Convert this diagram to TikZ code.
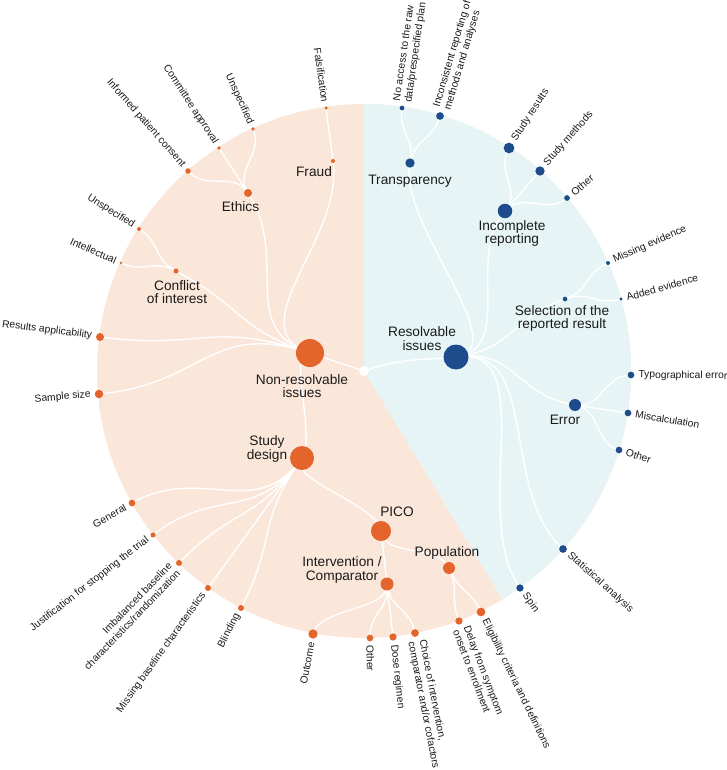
\documentclass[tikz,border=0pt]{standalone}
\usepackage{fontspec}
\setmainfont{Liberation Sans}
\usetikzlibrary{calc}
\pgfdeclarelayer{bgl}\pgfdeclarelayer{lkl}
\pgfsetlayers{bgl,lkl,main}
\definecolor{bgO}{HTML}{FBE6DA}
\definecolor{bgT}{HTML}{E6F4F5}
\definecolor{dO}{HTML}{E4652B}
\definecolor{dB}{HTML}{1D4B8C}
\definecolor{txt}{HTML}{1A1A1A}
\def\cx{364}\def\cy{371}
% name, x(px), y(px), diameter, style
\newcommand\mk[5]{%
  \expandafter\def\csname PX#1\endcsname{#2}%
  \expandafter\def\csname PY#1\endcsname{#3}%
  \expandafter\def\csname PD#1\endcsname{#4}%
  \node[dot,#5,minimum size=#4pt] (#1) at (#2,-#3) {};}
% radial link parent -> child
\newcommand\lk[2]{%
  \pgfmathsetmacro\lkXa{\csname PX#1\endcsname-\cx}%
  \pgfmathsetmacro\lkYa{\cy-\csname PY#1\endcsname}%
  \pgfmathsetmacro\lkXb{\csname PX#2\endcsname-\cx}%
  \pgfmathsetmacro\lkYb{\cy-\csname PY#2\endcsname}%
  \pgfmathsetmacro\lkAa{atan2(\lkYa,\lkXa)}%
  \pgfmathsetmacro\lkAb{atan2(\lkYb,\lkXb)}%
  \pgfmathsetmacro\lkR{(veclen(\lkXa,\lkYa)+veclen(\lkXb,\lkYb))/2}%
  \draw[lnk] (#1.center) .. controls ($(ctr.center)+(\lkAa:\lkR)$) and ($(ctr.center)+(\lkAb:\lkR)$) .. (#2.center);}
% radial leaf label
\newcommand\lab[2]{%
  \pgfmathsetmacro\lbX{\csname PX#1\endcsname-\cx}%
  \pgfmathsetmacro\lbY{\cy-\csname PY#1\endcsname}%
  \pgfmathsetmacro\lbA{atan2(\lbY,\lbX)}%
  \pgfmathsetmacro\lbD{\csname PD#1\endcsname/2+4}%
  \ifdim\lbX pt<0pt
    \pgfmathsetmacro\lbR{\lbA+180}%
    \node[leaflab,anchor=east,align=right,rotate=\lbR] (#1-l) at ($(#1.center)+(\lbA:\lbD)$) {#2};%
  \else
    \node[leaflab,anchor=west,align=left,rotate=\lbA] (#1-l) at ($(#1.center)+(\lbA:\lbD)$) {#2};%
  \fi}
\begin{document}
\begin{tikzpicture}[x=1pt,y=1pt,
  dot/.style={circle,inner sep=0pt,outer sep=0pt,draw=none},
  lnk/.style={white,line width=1.4pt},
  leaflab/.style={font=\fontsize{10.3}{11.5}\selectfont,text=txt,inner sep=0pt},
  mainlab/.style={font=\fontsize{13.7}{13.2}\selectfont,text=txt,inner sep=0pt,align=center}]
\useasboundingbox (0,0) rectangle (726,-770);
% ---- nodes
\mk{ctr}{364}{371}{10}{fill=white}
\mk{nr}{310}{353}{28}{fill=dO}
\mk{sd}{302}{458}{24}{fill=dO}
\mk{coi}{176}{271}{5}{fill=dO}
\mk{eth}{248}{193}{8}{fill=dO}
\mk{fra}{333}{161}{4}{fill=dO}
\mk{pico}{381}{531}{20}{fill=dO}
\mk{pop}{449}{568}{12}{fill=dO}
\mk{ic}{387}{584}{13}{fill=dO}
\mk{fal}{326}{108}{3.5}{fill=dO}
\mk{eun}{253}{129}{3.8}{fill=dO}
\mk{eca}{219}{148}{3.8}{fill=dO}
\mk{eip}{188}{171}{5.5}{fill=dO}
\mk{cun}{139}{229}{4}{fill=dO}
\mk{cin}{121}{263}{2.8}{fill=dO}
\mk{rap}{100}{337}{8}{fill=dO}
\mk{ssz}{99}{394}{8.5}{fill=dO}
\mk{gen}{132}{503}{6.7}{fill=dO}
\mk{jus}{153}{535}{5}{fill=dO}
\mk{imb}{179}{563}{6}{fill=dO}
\mk{mbc}{208}{588}{6}{fill=dO}
\mk{bli}{241}{608}{6}{fill=dO}
\mk{outc}{313}{634}{9.3}{fill=dO}
\mk{ioth}{370}{638}{6.7}{fill=dO}
\mk{dos}{393}{637}{7.3}{fill=dO}
\mk{cho}{415}{633}{7.7}{fill=dO}
\mk{del}{459}{621}{7.3}{fill=dO}
\mk{eli}{481}{612}{8.7}{fill=dO}
\mk{res}{456}{357}{25}{fill=dB}
\mk{tra}{410}{163}{9.3}{fill=dB}
\mk{inc}{505}{211}{14.5}{fill=dB}
\mk{sel}{565}{299}{4.7}{fill=dB}
\mk{err}{575}{405}{12}{fill=dB}
\mk{noa}{402}{108}{4.7}{fill=dB}
\mk{inr}{440}{116}{7.7}{fill=dB}
\mk{sre}{509}{148}{10.7}{fill=dB}
\mk{sme}{540}{171}{9.3}{fill=dB}
\mk{roth}{567}{198}{5.7}{fill=dB}
\mk{mev}{608}{263}{4}{fill=dB}
\mk{aev}{621}{299}{3.3}{fill=dB}
\mk{typ}{631}{375}{6.7}{fill=dB}
\mk{mis}{628}{413}{6.7}{fill=dB}
\mk{eoth}{619}{450}{6.7}{fill=dB}
\mk{sta}{563}{549}{7.7}{fill=dB}
\mk{spi}{520}{588}{7.3}{fill=dB}
% ---- background
\begin{pgfonlayer}{bgl}
\fill[bgO] (ctr.center) circle[radius=267];
\begin{scope}
\clip (ctr.center) circle[radius=267];
\fill[bgT] (ctr.center) -- (364,20) -- (740,20) -- (740,-830) -- ($(ctr.center)+(-58.8:520)$) -- cycle;
\end{scope}
\end{pgfonlayer}
% ---- links
\begin{pgfonlayer}{lkl}
\draw[lnk] (ctr.center) -- (nr.center);
\draw[lnk] (ctr.center) to[out=20,in=185] (res.center);
\lk{nr}{fra}\lk{fra}{fal}
\lk{nr}{eth}\lk{eth}{eun}\lk{eth}{eca}\lk{eth}{eip}
\lk{nr}{coi}\lk{coi}{cun}\lk{coi}{cin}
\lk{nr}{rap}\lk{nr}{ssz}
\lk{nr}{sd}
\lk{sd}{gen}\lk{sd}{jus}\lk{sd}{imb}\lk{sd}{mbc}\lk{sd}{bli}\lk{sd}{pico}
\lk{pico}{pop}\lk{pop}{del}\lk{pop}{eli}
\lk{pico}{ic}\lk{ic}{outc}\lk{ic}{ioth}\lk{ic}{dos}\lk{ic}{cho}
\lk{res}{tra}\lk{tra}{noa}\lk{tra}{inr}
\lk{res}{inc}\lk{inc}{sre}\lk{inc}{sme}\lk{inc}{roth}
\lk{res}{sel}\lk{sel}{mev}\lk{sel}{aev}
\lk{res}{err}\lk{err}{typ}\lk{err}{mis}\lk{err}{eoth}
\lk{res}{sta}\lk{res}{spi}
\end{pgfonlayer}
% ---- main labels
\node[mainlab] (nr-t) at (302,-386) {Non-resolvable\\issues};
\node[mainlab] (sd-t) at (267,-449) {Study\\design};
\node[mainlab] (coi-t) at (177,-292) {Conflict\\of interest};
\node[mainlab] (eth-t) at (240.5,-206.7) {Ethics};
\node[mainlab] (fra-t) at (314,-171.5) {Fraud};
\node[mainlab] (pico-t) at (397,-511.3) {PICO};
\node[mainlab] (pop-t) at (447,-553) {Population};
\node[mainlab] (ic-t) at (342,-570) {Intervention /\\Comparator};
\node[mainlab] (res-t) at (422,-338.7) {Resolvable\\issues};
\node[mainlab] (tra-t) at (410,-180.8) {Transparency};
\node[mainlab] (inc-t) at (512,-233.8) {Incomplete\\reporting};
\node[mainlab] (sel-t) at (562,-318.3) {Selection of the\\reported result};
\node[mainlab] (err-t) at (565,-420) {Error};
% ---- leaf labels
\lab{fal}{Falsification}
\lab{eun}{Unspecified}
\lab{eca}{Committee approval}
\lab{eip}{Informed patient consent}
\lab{cun}{Unspecified}
\lab{cin}{Intellectual}
\lab{rap}{Results applicability}
\lab{ssz}{Sample size}
\lab{gen}{General}
\lab{jus}{Justification for stopping the trial}
\lab{imb}{Imbalanced baseline\\characteristics/randomization}
\lab{mbc}{Missing baseline characteristics}
\lab{bli}{Blinding}
\lab{outc}{Outcome}
\lab{ioth}{Other}
\lab{dos}{Dose regimen}
\lab{cho}{Choice of intervention,\\comparator and/or cofactors}
\lab{del}{Delay from symptom\\onset to enrollment}
\lab{eli}{Eligibility criteria and definitions}
\lab{noa}{No access to the raw\\data/prespecified plan}
\lab{inr}{Inconsistent reporting of\\methods and analyses}
\lab{sre}{Study results}
\lab{sme}{Study methods}
\lab{roth}{Other}
\lab{mev}{Missing evidence}
\lab{aev}{Added evidence}
\lab{typ}{Typographical error}
\lab{mis}{Miscalculation}
\lab{eoth}{Other}
\lab{sta}{Statistical analysis}
\lab{spi}{Spin}
\end{tikzpicture}
\end{document}
